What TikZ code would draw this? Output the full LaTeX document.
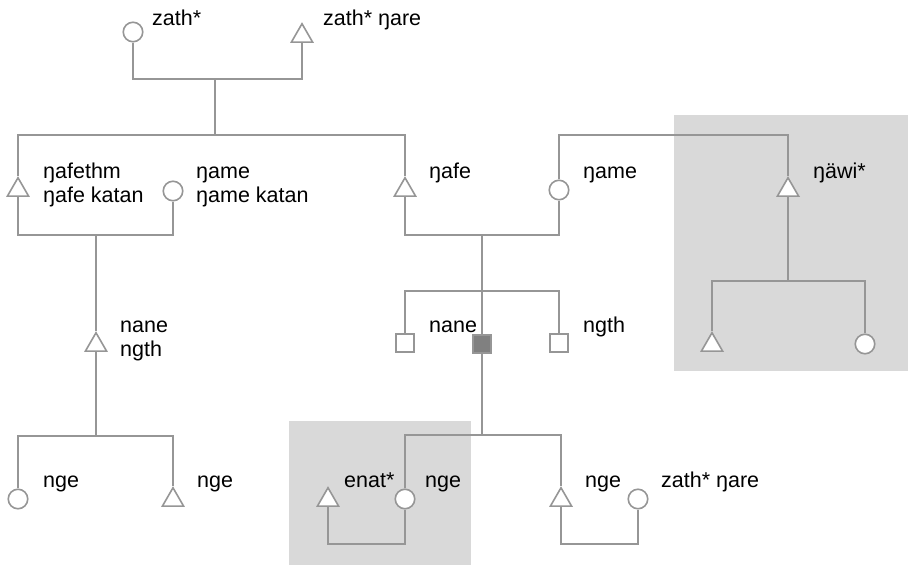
\documentclass[tikz,border=0pt]{standalone}
\usepackage{fontspec}
\setmainfont{Liberation Sans}
\usetikzlibrary{shapes.geometric}
\definecolor{lnc}{RGB}{150,150,150}
\definecolor{boxc}{RGB}{217,217,217}
\definecolor{darkc}{RGB}{128,128,128}
\begin{document}
\begin{tikzpicture}[x=1pt,y=-1pt,
  conn/.style={draw=lnc,line width=2pt},
  circ/.style={circle,draw=lnc,line width=1.6pt,fill=white,minimum size=19.5pt,inner sep=0pt},
  tri/.style={regular polygon,regular polygon sides=3,draw=lnc,line width=1.6pt,fill=white,minimum size=24.5pt,inner sep=0pt},
  sq/.style={rectangle,draw=lnc,line width=1.6pt,fill=white,minimum size=18pt,inner sep=0pt},
  sqf/.style={sq,fill=darkc},
  lab/.style={anchor=base west,inner sep=0pt,font=\fontsize{21.5}{24}\selectfont,align=left,text=black},
  shade/.style={fill=boxc,draw=none}]
\useasboundingbox (0,0) rectangle (908,565);
% background boxes
\path[shade] (674,115) rectangle (908,371);
\path[shade] (289,421) rectangle (471,565);
% junction coordinates
\coordinate (j1) at (215,79);
\coordinate (j2) at (215,135);
\coordinate (j3) at (96,235);
\coordinate (j4) at (96,436);
\coordinate (j5) at (482,235);
\coordinate (j6) at (482,291);
\coordinate (j7) at (482,435);
\coordinate (j9) at (673,135);
\coordinate (j10) at (788,281);
\coordinate (b1) at (366,544);
\coordinate (b2) at (600,544);
% symbols
\node[circ] (czath) at (133,32) {};
\node[tri] (tzathare) at (302,36) {};
\node[tri] (tafethm) at (18,190) {};
\node[circ] (camel) at (173,191) {};
\node[tri] (tafe) at (405,190) {};
\node[circ] (camem) at (559,190) {};
\node[tri] (tawi) at (788,190) {};
\node[tri] (tnane) at (96,345) {};
\node[sq] (s1) at (405,343) {};
\node[sqf] (s2) at (482,344) {};
\node[sq] (s3) at (559,343) {};
\node[tri] (tawil) at (712,345) {};
\node[circ] (cawir) at (865,344) {};
\node[circ] (cngel) at (18,499) {};
\node[tri] (tngel) at (173,500) {};
\node[tri] (tenat) at (328,500) {};
\node[circ] (cenat) at (405,499) {};
\node[tri] (tnger) at (561,500) {};
\node[circ] (czathr) at (638,499) {};
% connectors
\path[conn] (czath.south) |- (j1) -| (tzathare.south);
\path[conn] (j1) -- (j2);
\path[conn] (tafethm.north) |- (j2) -| (tafe.north);
\path[conn] (tafethm.south) |- (j3) -| (camel.south);
\path[conn] (j3) -- (tnane.north);
\path[conn] (tnane.south) -- (j4);
\path[conn] (cngel.north) |- (j4) -| (tngel.north);
\path[conn] (tafe.south) |- (j5) -| (camem.south);
\path[conn] (j5) -- (s2.north);
\path[conn] (s1.north) |- (j6) -| (s3.north);
\path[conn] (s2.south) -- (j7);
\path[conn] (cenat.north) |- (j7) -| (tnger.north);
\path[conn] (tenat.south) |- (b1) -| (cenat.south);
\path[conn] (tnger.south) |- (b2) -| (czathr.south);
\path[conn] (camem.north) |- (j9) -| (tawi.north);
\path[conn] (tawi.south) -- (j10);
\path[conn] (tawil.north) |- (j10) -| (cawir.north);
% labels
\node[lab] (l1) at (152,25) {zath*};
\node[lab] (l2) at (323,25) {zath* ŋare};
\node[lab] (l3) at (43,202) {ŋafethm\\ŋafe katan};
\node[lab] (l4) at (196,202) {ŋame\\ŋame katan};
\node[lab] (l5) at (429,178) {ŋafe};
\node[lab] (l6) at (583,178) {ŋame};
\node[lab] (l7) at (813,178) {ŋäwi*};
\node[lab] (l8) at (120,356) {nane\\ngth};
\node[lab] (l9) at (429,332) {nane};
\node[lab] (l10) at (583,332) {ngth};
\node[lab] (l11) at (43,487) {nge};
\node[lab] (l12) at (197,487) {nge};
\node[lab] (l13) at (344,487) {enat*};
\node[lab] (l14) at (425,487) {nge};
\node[lab] (l15) at (585,487) {nge};
\node[lab] (l16) at (661,487) {zath* ŋare};
\end{tikzpicture}
\end{document}
